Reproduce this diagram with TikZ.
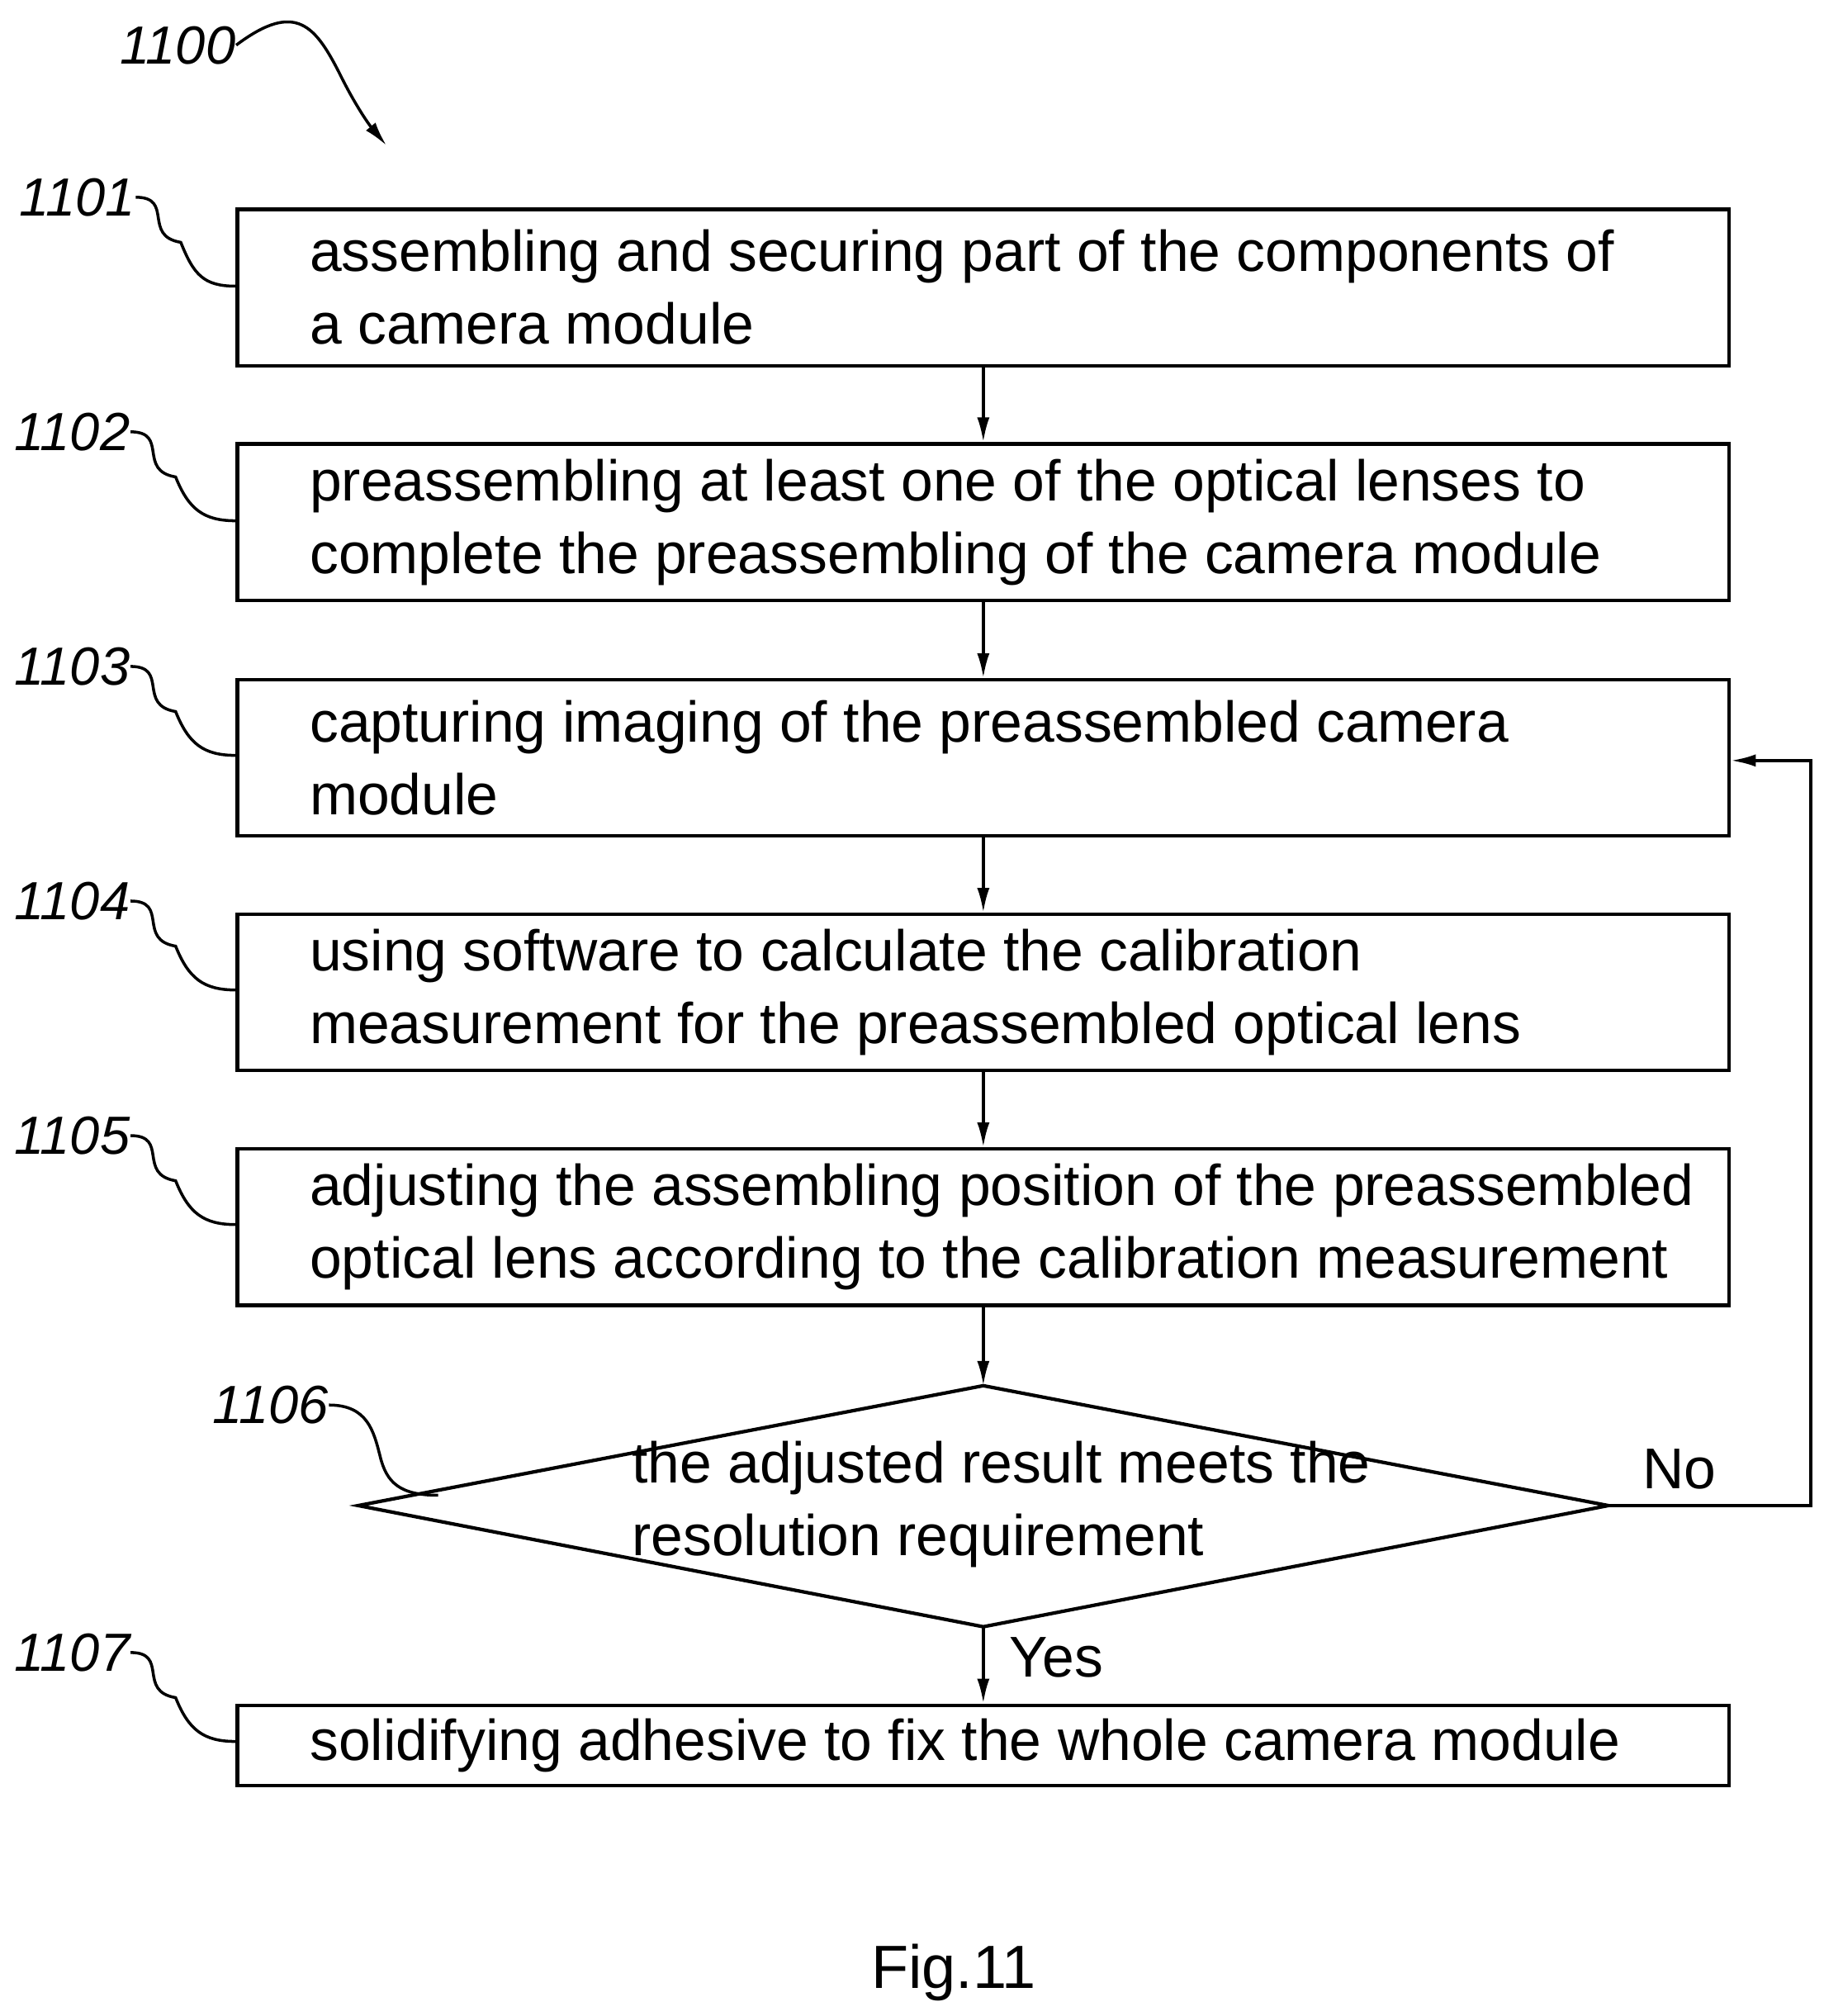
\documentclass[tikz,border=0pt]{standalone}
\usepackage{fontspec}
\setmainfont{Liberation Sans}
\usetikzlibrary{positioning,calc,arrows.meta}
\tikzset{
  box/.style={draw, line width=1.2pt, minimum width=18.05cm, minimum height=1.89cm, inner sep=0pt},
  txt/.style={align=left, inner sep=0pt, font=\fontsize{19.8pt}{25pt}\selectfont},
  num/.style={inner sep=0pt, font=\itshape\fontsize{18.5pt}{20pt}\selectfont},
  flow/.style={->, line width=1pt}
}
\begin{document}
\begin{tikzpicture}[>={Latex[length=0.3cm,width=0.15cm]}, x=0.0156cm, y=-0.0156cm]
	\useasboundingbox (0,0) rectangle (1415,1564);
	% steps
	\node[box] (s1) at (763,223) {};
	\node[box] (s2) at (763,405) {};
	\node[box] (s3) at (763,588) {};
	\node[box] (s4) at (763,770) {};
	\node[box] (s5) at (763,952) {};
	\node[box, minimum height=0.97cm] (s7) at (763,1354) {};
	\node[txt, right=0.89cm of s1.west] {assembling and securing part of the components of\\a camera module};
	\node[txt, right=0.89cm of s2.west] {preassembling at least one of the optical lenses to\\complete the preassembling of the camera module};
	\node[txt, right=0.89cm of s3.west] {capturing imaging of the preassembled camera\\module};
	\node[txt, right=0.89cm of s4.west] {using software to calculate the calibration\\measurement for the preassembled optical lens};
	\node[txt, right=0.89cm of s5.west] {adjusting the assembling position of the preassembled\\optical lens according to the calibration measurement};
	\node[txt, right=0.89cm of s7.west] {solidifying adhesive to fix the whole camera module};
	% decision
	\coordinate (dt) at (763,1075);
	\coordinate (dr) at (1248,1168);
	\coordinate (db) at (763,1262);
	\coordinate (dl) at (278,1168);
	\draw[line width=1.2pt] (dt) -- (dr) -- (db) -- (dl) -- cycle;
	\node[txt, anchor=west] (s6) at (490,1167) {the adjusted result meets the\\resolution requirement};
	% connectors
	\draw[flow] (s1) -- (s2);
	\draw[flow] (s2) -- (s3);
	\draw[flow] (s3) -- (s4);
	\draw[flow] (s4) -- (s5);
	\draw[flow] (s5) -- (dt);
	\draw[flow] (db) -- (s7) node[pos=0.4, right=0.3cm, txt] {Yes};
	\coordinate (back) at (1405,590);
	\draw[flow] (dr) -- (1405,1168) -- (back) -- (s3.east |- back);
	\node[txt] at (1303,1140) {No};
	% reference numerals
	\node[num] (n0) at (138,35) {1100};
	\node[num] (n1) at (60,153) {1101};
	\node[num] (n2) at (56,335) {1102};
	\node[num] (n3) at (56,517) {1103};
	\node[num] (n4) at (56,699) {1104};
	\node[num] (n5) at (56,881) {1105};
	\node[num] (n6) at (210,1090) {1106};
	\node[num] (n7) at (56,1282) {1107};
	\draw[->, line width=1pt] (n0.east) .. controls (230,0) and (245,20) .. (265,60) .. controls (275,80) and (285,95) .. (300,113);
	\foreach \n/\s in {n1/s1,n2/s2,n3/s3,n4/s4,n5/s5,n7/s7}
		\draw[line width=1pt] (\n.east) .. controls +(30,0) and +(-30,-5) .. ($(\n.east)+(35,35)$) .. controls +(10,25) and +(-25,0) .. (\s.west |- {$(\n.east)+(0,69)$});
	\draw[line width=1pt] (n6.east) .. controls (285,1090) and (290,1110) .. (295,1130) .. controls (300,1150) and (310,1160) .. (340,1160);
	\node[font=\fontsize{21pt}{24pt}\selectfont] at (740,1530) {Fig.11};
\end{tikzpicture}
\end{document}
